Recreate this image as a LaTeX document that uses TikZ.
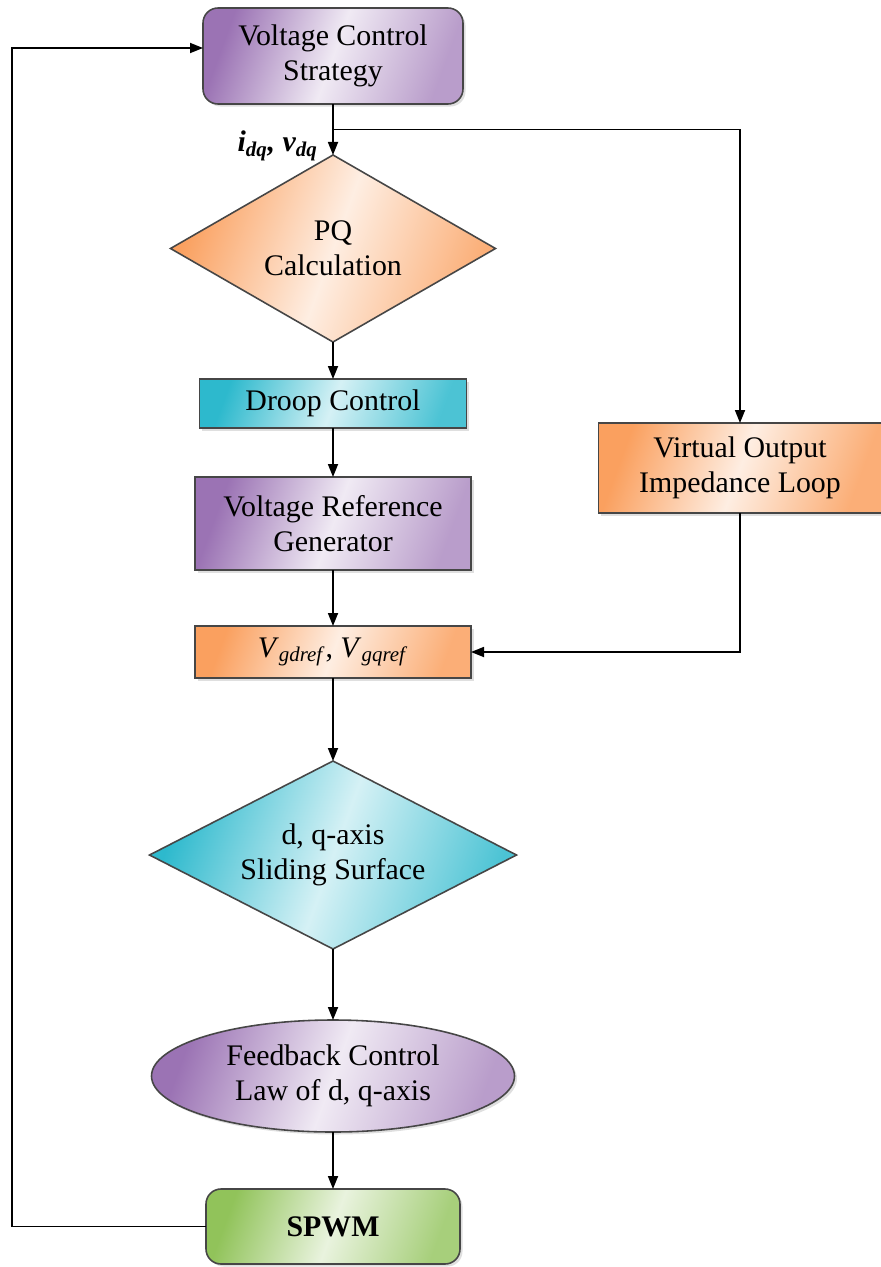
\documentclass[tikz,border=0pt]{standalone}
\usepackage{fontspec}
\setmainfont{Liberation Serif}
\usetikzlibrary{shapes.geometric, arrows.meta, positioning, shadows, calc}

\definecolor{BoxPurple}{RGB}{155,115,180}
\definecolor{BoxOrange}{RGB}{250,160,95}
\definecolor{BoxCyan}{RGB}{45,185,205}
\definecolor{BoxGreen}{RGB}{145,195,90}
\definecolor{BoxEdge}{RGB}{70,70,70}

\begin{document}
\begin{tikzpicture}[
    base/.style={draw=BoxEdge, line width=0.9pt, align=center, inner sep=2pt, outer sep=0pt,
                 font=\fontsize{17}{20}\selectfont},
    shadowed/.style={drop shadow={opacity=0.25, shadow xshift=0.05cm, shadow yshift=-0.05cm}},
    % corners darker, middle light
    purplefill/.style={left color=BoxPurple, right color=BoxPurple!70, middle color=BoxPurple!15, shading angle=70},
    orangefill/.style={left color=BoxOrange, right color=BoxOrange!85, middle color=BoxOrange!18, shading angle=70},
    cyanfill/.style={left color=BoxCyan, right color=BoxCyan!85, middle color=BoxCyan!20, shading angle=70},
    greenfill/.style={left color=BoxGreen, right color=BoxGreen!80, middle color=BoxGreen!20, shading angle=70},
    box/.style={base, shadowed, rectangle},
    rbox/.style={base, shadowed, rectangle, rounded corners=0.3cm},
    decision/.style={base, diamond, inner sep=0pt},
    arrow/.style={->, line width=1pt, >={Triangle[length=0.26cm, width=0.2cm]}},
    lbl/.style={inner sep=0pt, font=\fontsize{17}{20}\selectfont\itshape}
]
\useasboundingbox (0,0) rectangle (17.62,-25.34);

% Main chain
\node[rbox, purplefill, minimum width=5.2cm, minimum height=1.92cm] (vcs) at (6.66,-1.12) {Voltage Control\\Strategy};
\node[decision, orangefill, aspect=1.74, minimum width=6.5cm, minimum height=3.74cm, below=1.02cm of vcs] (pq) {PQ\\Calculation};
\node[box, cyanfill, minimum width=5.34cm, minimum height=0.98cm, below=0.74cm of pq] (droop) {Droop Control};
\node[box, purplefill, minimum width=5.52cm, minimum height=1.86cm, below=0.98cm of droop] (vrg) {Voltage Reference\\Generator};
\node[box, orangefill, minimum width=5.52cm, minimum height=1.04cm, below=1.12cm of vrg] (vref) {\textit{V}\textsubscript{\textit{gdref}}, \textit{V}\textsubscript{\textit{gqref}}};
\node[decision, cyanfill, aspect=1.95, minimum width=7.34cm, minimum height=3.76cm, below=1.66cm of vref] (ss) {d, q-axis\\Sliding Surface};
\node[base, shadowed, ellipse, purplefill, minimum width=7.26cm, minimum height=2.24cm, inner sep=0pt, below=1.42cm of ss] (law) {Feedback Control\\Law of d, q-axis};
\node[rbox, greenfill, minimum width=5.08cm, minimum height=1.5cm, below=1.14cm of law] (spwm) {\textbf{SPWM}};

% Side branch
\node[box, orangefill, minimum width=5.66cm, minimum height=1.8cm] (voil) at (14.8,-9.36) {Virtual Output\\Impedance Loop};

\coordinate (br) at ($(vcs.south)!0.5!(pq.north)$);
\coordinate (fb) at (0.24,0);
\node[lbl, anchor=north east] (idq) at ([xshift=-0.3cm, yshift=-0.02cm]br) {\textbf{\textit{i}\textsubscript{\textit{dq}}, \textit{v}\textsubscript{\textit{dq}}}};

% Arrows
\draw[arrow] (vcs) -- (pq);
\draw[arrow] (br) -| (voil.north);
\draw[arrow] (pq) -- (droop);
\draw[arrow] (droop) -- (vrg);
\draw[arrow] (vrg) -- (vref);
\draw[arrow] (voil.south) |- (vref.east);
\draw[arrow] (vref) -- (ss);
\draw[arrow] (ss) -- (law);
\draw[arrow] (law) -- (spwm);
\draw[arrow] (spwm.west) -- (spwm.west -| fb) |- ([yshift=0.16cm]vcs.west);

\end{tikzpicture}
\end{document}
